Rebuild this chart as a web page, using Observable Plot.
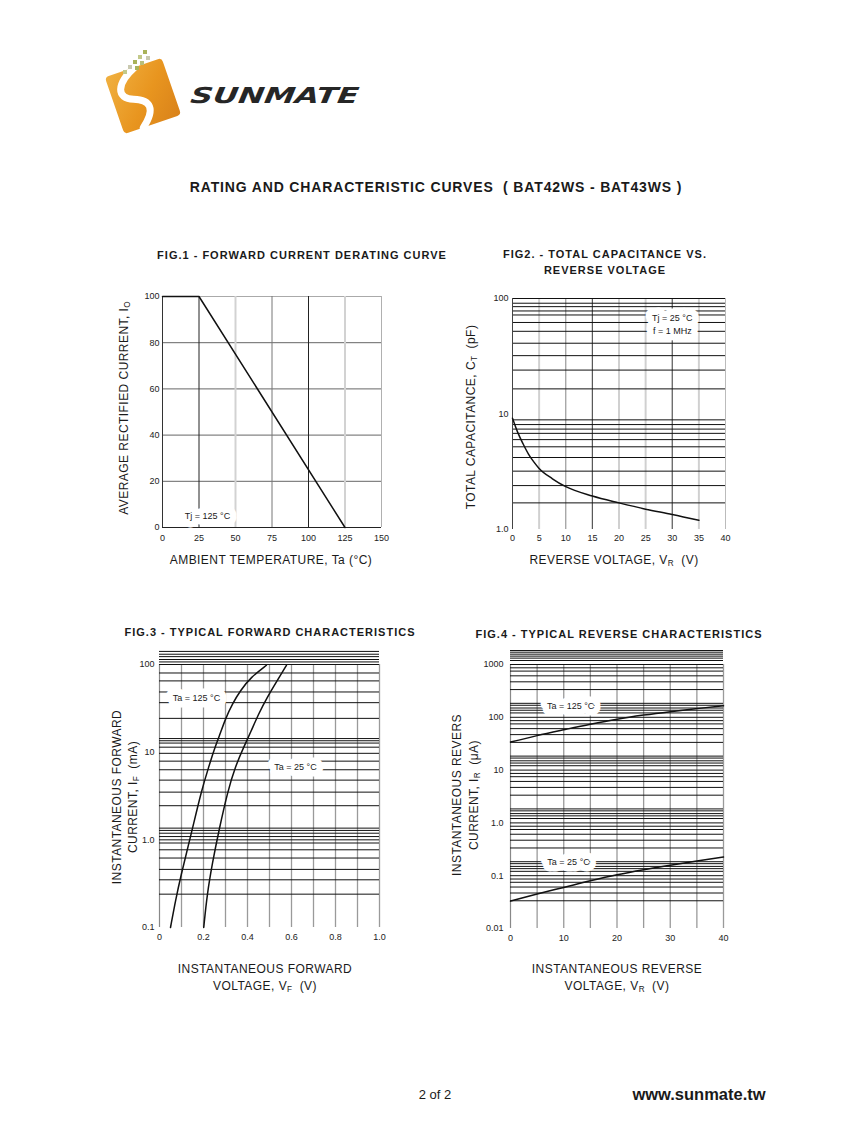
<!DOCTYPE html>
<html><head><meta charset="utf-8">
<script src="https://cdn.jsdelivr.net/npm/d3@7"></script>
<script src="https://cdn.jsdelivr.net/npm/@observablehq/plot@0.6"></script>
<style>
html,body{margin:0;padding:0;background:#fff;}
#page{position:relative;width:847px;height:1125px;overflow:hidden;font-family:"Liberation Sans",Arial,Helvetica,sans-serif;color:#1a1a1a;}
.t{position:absolute;white-space:nowrap;transform:translate(-50%,-50%);text-align:center;}
.rot{transform:translate(-50%,-50%) rotate(-90deg);}
.ax{font-size:12px;letter-spacing:0.45px;}
.ft{font-weight:bold;font-size:11px;letter-spacing:1px;}
sub{font-size:68%;vertical-align:-0.3em;line-height:0;letter-spacing:0;}
</style></head><body><div id="page"></div>
<script>
const FONT = '"Liberation Sans", Arial, Helvetica, sans-serif';

// ---------- FIG.1 data ----------
const fig1Temp = [0, 25, 125];
const fig1Current = [100, 100, 0];
const fig1XTicks = [0, 25, 50, 75, 100, 125, 150];
const fig1YTicks = [0, 20, 40, 60, 80, 100];
const fig1Note = {x: 30.8, y: 5.6, text: "Tj = 125 °C"};

// ---------- FIG.2 data ----------
const fig2Voltage = [0, 1, 2, 3, 4, 5, 7.5, 10, 15, 20, 25, 30, 35];
const fig2Capacitance = [9.2, 6.9, 5.5, 4.5, 3.85, 3.38, 2.75, 2.35, 1.95, 1.7, 1.5, 1.35, 1.2];
const fig2XTicks = [0, 5, 10, 15, 20, 25, 30, 35, 40];
const fig2YTicks = [1, 10, 100];
const fig2YLabels = ["1.0", "10", "100"];
const fig2Grid = [1.7, 2.4, 3.2, 4.2, 5.2, 6.0, 6.8, 7.4, 8.1, 8.9, 16.5, 24, 32, 41, 52, 62, 72, 78, 85, 91, 100];
const fig2Note = {x: 30, y: 60.8, text: "Tj = 25 °C\nf = 1 MHz"};

// ---------- FIG.3 data ----------
const fig3V125 = [0.05, 0.073, 0.095, 0.148, 0.191, 0.223, 0.25, 0.273, 0.30, 0.332, 0.368, 0.414, 0.486];
const fig3I125 = [0.1, 0.204, 0.372, 1.28, 3.66, 6.7, 11.0, 15.5, 24.2, 35.9, 50.5, 71, 98];
const fig3V25 = [0.201, 0.217, 0.24, 0.27, 0.311, 0.345, 0.382, 0.414, 0.451, 0.489, 0.535, 0.577];
const fig3I25 = [0.1, 0.245, 0.538, 1.28, 3.66, 6.87, 11.3, 16.8, 27.6, 42.1, 65.7, 98];
const fig3XTicks = [0, 0.2, 0.4, 0.6, 0.8, 1.0];
const fig3XLabels = ["0", "0.2", "0.4", "0.6", "0.8", "1.0"];
const fig3YTicks = [0.1, 1, 10, 100];
const fig3YLabels = ["0.1", "1.0", "10", "100"];
const fig3VGrid = [0.1, 0.2, 0.3, 0.4, 0.5, 0.6, 0.7, 0.8, 0.9, 1.0];
const fig3Grid = [0.24, 0.35, 0.46, 0.62, 0.77, 0.92, 1.0, 1.09, 1.19, 1.28, 1.36,
  2.45, 3.5, 4.8, 6.3, 7.9, 9.7, 11.4, 12.7, 13.5, 14.3,
  24.3, 36.7, 48.6, 65, 80, 100, 107, 114, 123, 131, 141];
const fig3Notes = [{x: 0.168, y: 43, text: "Ta = 125 °C"}, {x: 0.618, y: 6.9, text: "Ta = 25 °C"}];

// ---------- FIG.4 data ----------
const fig4Voltage = [0, 5, 10, 15, 20, 25, 30, 35, 40];
const fig4I125 = [34, 45, 58, 74, 92, 110, 128, 146, 165];
const fig4I25 = [0.033, 0.045, 0.06, 0.08, 0.104, 0.13, 0.158, 0.19, 0.225];
const fig4XTicks = [0, 10, 20, 30, 40];
const fig4YTicks = [0.01, 0.1, 1, 10, 100, 1000];
const fig4YLabels = ["0.01", "0.1", "1.0", "10", "100", "1000"];
const fig4VGrid = [5, 10, 15, 20, 25, 30, 35, 40];
const fig4Grid = [0.0335, 0.047, 0.061, 0.075, 0.0865, 0.1, 0.121, 0.136, 0.15, 0.169, 0.184,
  0.335, 0.47, 0.61, 0.75, 0.865, 1, 1.21, 1.36, 1.5, 1.69, 1.84,
  3.35, 4.7, 6.1, 7.5, 8.65, 10, 12.1, 13.6, 15, 16.9, 18.4,
  33.5, 47, 61, 75, 86.5, 100, 121, 136, 150, 169, 184,
  335, 470, 610, 750, 865, 1000, 1190, 1320, 1440, 1570, 1710, 1840];
const fig4Notes = [{x: 11.3, y: 176, text: "Ta = 125 °C"}, {x: 10.9, y: 0.19, text: "Ta = 25 °C"}];

const zip = (a, b) => a.map((v, i) => ({x: v, y: b[i]}));
const page = document.getElementById("page");

function addText(html, cx, cy, css = "", cls = "t") {
  const d = document.createElement("div");
  d.className = cls;
  d.innerHTML = html;
  d.style.left = cx + "px";
  d.style.top = cy + "px";
  d.style.cssText += css;
  page.appendChild(d);
}

function addPlot(left, top, opts) {
  const svg = Plot.plot({
    ...opts,
    style: {fontFamily: FONT, fontSize: "9px", background: "transparent", overflow: "visible", color: "#222"}
  });
  svg.style.position = "absolute";
  svg.style.left = left + "px";
  svg.style.top = top + "px";
  page.appendChild(svg);
}

function notes(data, extra = {}) {
  return [
    Plot.text(data, {x: "x", y: "y", text: "text", fontSize: 9, fill: "white", stroke: "white", strokeWidth: 13, strokeLinejoin: "round", lineHeight: 1.45, ...extra}),
    Plot.text(data, {x: "x", y: "y", text: "text", fontSize: 9, fill: "#1a1a1a", lineHeight: 1.45, ...extra})
  ];
}
const lab = (ticks, labels) => d => labels[ticks.findIndex(t => Math.abs(t - d) < 1e-9)];

// ---------- Logo ----------
const logo = document.createElementNS("http://www.w3.org/2000/svg", "svg");
logo.setAttribute("width", 280); logo.setAttribute("height", 100);
logo.style.cssText = "position:absolute;left:95px;top:38px;";
logo.innerHTML = `
<defs><linearGradient id="og" x1="0" y1="0" x2="1" y2="1">
<stop offset="0" stop-color="#f0b040"/><stop offset="0.55" stop-color="#e8951f"/><stop offset="1" stop-color="#d9821a"/></linearGradient></defs>
<g transform="translate(48,58) rotate(-19)">
<rect x="-30" y="-30" width="60" height="60" rx="4" fill="url(#og)"/>
<path d="M 2,-30 C -22,-20 -26,-6 -10,0 C 6,6 8,16 -10,30" fill="none" stroke="#fff" stroke-width="7" stroke-linecap="round"/>
</g>
<g fill="#a9b35a">
<rect x="48" y="12" width="4" height="4"/><rect x="43" y="17" width="4" height="4" fill="#c3c98a"/>
<rect x="51" y="18" width="4" height="4" fill="#c9c9b0"/><rect x="38" y="22" width="4" height="4"/>
<rect x="45" y="23" width="4" height="4" fill="#b9bf7a"/><rect x="33" y="27" width="4" height="4" fill="#c9c9b0"/>
<rect x="40" y="28" width="4" height="4"/><rect x="28" y="32" width="4" height="4" fill="#c3c98a"/>
</g>
<text x="104" y="65" font-family="DejaVu Sans" font-weight="bold" font-style="italic" font-size="22" fill="#262626" textLength="168" lengthAdjust="spacingAndGlyphs" transform="skewX(-8)" >SUNMATE</text>
`;
page.appendChild(logo);

// ---------- Titles ----------
addText("RATING AND CHARACTERISTIC CURVES&nbsp;&nbsp;( BAT42WS - BAT43WS )", 436, 187, "font-weight:bold;font-size:14px;letter-spacing:0.85px;");
addText("FIG.1 - FORWARD CURRENT DERATING CURVE", 302, 255, "", "t ft");
addText("FIG2. - TOTAL CAPACITANCE VS.<br>REVERSE VOLTAGE", 605, 262, "line-height:16px;", "t ft");
addText("FIG.3 - TYPICAL FORWARD CHARACTERISTICS", 270, 632, "", "t ft");
addText("FIG.4 - TYPICAL REVERSE CHARACTERISTICS", 619, 634, "", "t ft");

// ---------- Axis labels ----------
addText("AMBIENT TEMPERATURE, Ta (°C)", 271, 560, "", "t ax");
addText("AVERAGE RECTIFIED CURRENT, I<sub>O</sub>", 124, 408, "", "t ax rot");
addText("REVERSE VOLTAGE, V<sub>R</sub>&nbsp; (V)", 614, 560, "", "t ax");
addText("TOTAL CAPACITANCE, C<sub>T</sub>&nbsp; (pF)", 471, 417, "", "t ax rot");
addText("INSTANTANEOUS FORWARD<br>VOLTAGE, V<sub>F</sub>&nbsp; (V)", 265, 978, "line-height:17px;", "t ax");
addText("INSTANTANEOUS FORWARD<br>CURRENT, I<sub>F</sub>&nbsp; (mA)", 125, 797, "line-height:16px;", "t ax rot");
addText("INSTANTANEOUS REVERSE<br>VOLTAGE, V<sub>R</sub>&nbsp; (V)", 617, 978, "line-height:17px;", "t ax");
addText("INSTANTANEOUS REVERS<br>CURRENT, I<sub>R</sub>&nbsp; (μA)", 466, 795, "line-height:17px;", "t ax rot");

// ---------- Footer ----------
addText("2 of 2", 435, 1094, "font-size:13px;");
addText("www.sunmate.tw", 699, 1094, "font-size:16.5px;font-weight:bold;");

// ---------- FIG.1 ----------
addPlot(132, 286, {
  width: 257, height: 263, marginLeft: 30, marginRight: 8, marginTop: 10, marginBottom: 22,
  x: {domain: [0, 150], label: null},
  y: {domain: [0, 100], label: null},
  marks: [
    Plot.ruleY([20, 40, 60, 80], {stroke: "#666", strokeWidth: 1}),
    Plot.ruleY([100], {stroke: "#aaa", strokeWidth: 1}),
    Plot.ruleX([50, 125], {stroke: "#d2d2d2", strokeWidth: 2}),
    Plot.ruleX([150], {stroke: "#b0b0b0", strokeWidth: 1}),
    Plot.ruleX([75], {stroke: "#777", strokeWidth: 1}),
    Plot.ruleX([25, 100], {stroke: "#222", strokeWidth: 1}),
    Plot.ruleX([0], {stroke: "#333", strokeWidth: 1}),
    Plot.ruleY([0], {stroke: "#222", strokeWidth: 1.2}),
    ...notes([fig1Note]),
    Plot.line(zip(fig1Temp, fig1Current), {x: "x", y: "y", stroke: "#111", strokeWidth: 1.5}),
    Plot.axisX(fig1XTicks, {tickSize: 0, tickPadding: 7, fontSize: 9, label: null}),
    Plot.axisY(fig1YTicks, {tickSize: 0, tickPadding: 3, fontSize: 9, label: null})
  ]
});

// ---------- FIG.2 ----------
addPlot(482, 288, {
  width: 251, height: 263, marginLeft: 30, marginRight: 8, marginTop: 10, marginBottom: 22,
  x: {domain: [0, 40], label: null},
  y: {type: "log", domain: [1, 100], label: null},
  marks: [
    Plot.ruleX([5, 20, 25, 35], {stroke: "#d0d0d0", strokeWidth: 2}),
    Plot.ruleX([40], {stroke: "#bbb", strokeWidth: 1}),
    Plot.ruleX([10], {stroke: "#999", strokeWidth: 1.2}),
    Plot.ruleX([15, 30], {stroke: "#555", strokeWidth: 1.2}),
    Plot.ruleY(fig2Grid, {stroke: "#111", strokeWidth: 1}),
    Plot.ruleX([0], {stroke: "#444", strokeWidth: 1}),
    ...notes([fig2Note]),
    Plot.line(zip(fig2Voltage, fig2Capacitance), {x: "x", y: "y", curve: "monotone-x", stroke: "#111", strokeWidth: 1.5}),
    Plot.axisX(fig2XTicks, {tickSize: 0, tickPadding: 5, fontSize: 9, label: null}),
    Plot.axisY(fig2YTicks, {tickSize: 0, tickPadding: 4, fontSize: 9, label: null, tickFormat: lab(fig2YTicks, fig2YLabels)})
  ]
});

// ---------- FIG.3 ----------
addPlot(129, 644, {
  width: 258, height: 305, marginLeft: 30, marginRight: 8, marginTop: 20, marginBottom: 22,
  x: {domain: [0, 1], label: null},
  y: {type: "log", domain: [0.1, 100], label: null},
  marks: [
    Plot.ruleX(fig3VGrid, {stroke: "#9a9a9a", strokeWidth: 1.3}),
    Plot.ruleX([0], {stroke: "#888", strokeWidth: 1.2}),
    Plot.ruleY(fig3Grid, {stroke: "#111", strokeWidth: 1}),
    ...notes(fig3Notes),
    Plot.line(zip(fig3V125, fig3I125), {x: "x", y: "y", curve: "basis", stroke: "#111", strokeWidth: 1.5}),
    Plot.line(zip(fig3V25, fig3I25), {x: "x", y: "y", curve: "basis", stroke: "#111", strokeWidth: 1.5}),
    Plot.axisX(fig3XTicks, {tickSize: 0, tickPadding: 6, fontSize: 9, label: null, tickFormat: lab(fig3XTicks, fig3XLabels)}),
    Plot.axisY(fig3YTicks, {tickSize: 0, tickPadding: 5, fontSize: 9, label: null, tickFormat: lab(fig3YTicks, fig3YLabels)})
  ]
});

// ---------- FIG.4 ----------
addPlot(480, 644, {
  width: 251, height: 306, marginLeft: 30, marginRight: 8, marginTop: 20, marginBottom: 22,
  x: {domain: [0, 40], label: null},
  y: {type: "log", domain: [0.01, 1000], label: null},
  marks: [
    Plot.ruleX(fig4VGrid, {stroke: "#9a9a9a", strokeWidth: 1.3}),
    Plot.ruleX([0], {stroke: "#888", strokeWidth: 1.2}),
    Plot.ruleY(fig4Grid, {stroke: "#111", strokeWidth: 1}),
    ...notes(fig4Notes),
    Plot.line(zip(fig4Voltage, fig4I125), {x: "x", y: "y", curve: "monotone-x", stroke: "#111", strokeWidth: 1.5}),
    Plot.line(zip(fig4Voltage, fig4I25), {x: "x", y: "y", curve: "monotone-x", stroke: "#111", strokeWidth: 1.5}),
    Plot.axisX(fig4XTicks, {tickSize: 0, tickPadding: 6, fontSize: 9, label: null}),
    Plot.axisY(fig4YTicks, {tickSize: 0, tickPadding: 7, fontSize: 9, label: null, tickFormat: lab(fig4YTicks, fig4YLabels)})
  ]
});
</script></body></html>
